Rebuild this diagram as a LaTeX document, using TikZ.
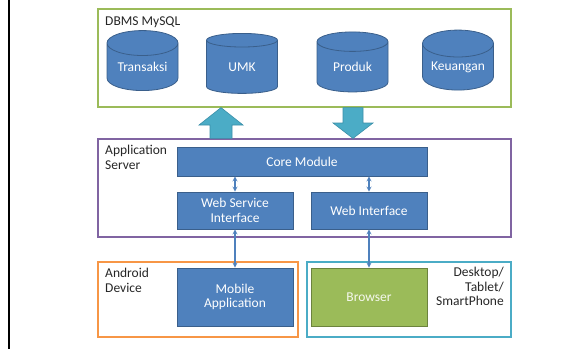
\documentclass[tikz,border=0pt]{standalone}
\usepackage{fontspec}
\setmainfont{Carlito}
\usetikzlibrary{shapes.geometric}

\definecolor{boxblue}{HTML}{4F81BD}
\definecolor{boxedge}{HTML}{3A5F8B}
\definecolor{dbgreen}{HTML}{9BBB59}
\definecolor{srvpurple}{HTML}{8064A2}
\definecolor{devorange}{HTML}{F79646}
\definecolor{devteal}{HTML}{4BACC6}
\definecolor{tealedge}{HTML}{3A8FA8}
\definecolor{labelgray}{HTML}{262626}

\tikzset{
	module/.style = {rectangle, draw=boxedge, fill=boxblue, text=white, line width=0.8pt,
		inner sep=0pt, align=center},
	dbtable/.style = {cylinder, shape border rotate=90, aspect=0.5, draw=boxedge, fill=boxblue,
		text=white, line width=0.8pt, inner sep=0pt, minimum width=71, minimum height=60},
	layer/.style = {rectangle, line width=1.2pt, inner sep=0pt},
	layerlabel/.style = {inner sep=0pt, text=labelgray},
	bigarrow/.style = {fill=devteal, draw=tealedge, line width=0.6pt}
}

\begin{document}
\begin{tikzpicture}[
		x = 1pt, y = -1pt, % one unit per pixel, y downwards
		> = stealth, % arrow head style
		font = \fontsize{13.5}{14.5}\selectfont
		]
		
		\useasboundingbox (0,0) rectangle (588,349);
		\draw[line width=2pt] (9,0) -- (9,349);
		
		% layers
		\node[layer, draw=dbgreen, minimum width=413, minimum height=98] (dbms) at (304.5,58) {};
		\node[layer, draw=srvpurple, minimum width=413, minimum height=98] (server) at (304.5,188) {};
		\node[layer, draw=devorange, minimum width=200, minimum height=75] (android) at (198,299.5) {};
		\node[layer, draw=devteal, minimum width=204, minimum height=75] (desktop) at (409,299.5) {};
		
		\node[layerlabel, anchor=base west] (dbmslbl) at (105,25) {DBMS MySQL};
		\node[layerlabel, anchor=north west, align=left] (serverlbl) at (105,145) {Application\\Server};
		\node[layerlabel, anchor=north west, align=left] (androidlbl) at (105,268) {Android\\Device};
		\node[layerlabel, anchor=north east, align=right] (desktoplbl) at (504,267) {Desktop/\\Tablet/\\SmartPhone};
		
		% database tables
		\node[dbtable] (transaksi) at (142.5,67) {Transaksi};
		\node[dbtable] (umk) at (242,67) {UMK};
		\node[dbtable] (produk) at (352.5,67) {Produk};
		\node[dbtable] (keuangan) at (458,67) {Keuangan};
		
		% modules
		\node[module, minimum width=250, minimum height=29] (core) at (302,161.5) {Core Module};
		\node[module, minimum width=116, minimum height=37] (wsi) at (235,210.5) {Web Service\\Interface};
		\node[module, minimum width=116, minimum height=37] (webif) at (369,210.5) {Web Interface};
		\node[module, minimum width=116, minimum height=58] (mobile) at (235,297) {Mobile\\Application};
		\node[module, fill=dbgreen, draw=dbgreen!70!black, text=white!90!dbgreen,
			minimum width=116, minimum height=58] (browser) at (369,297) {Browser};
		
		% data flow between database and server
		\draw[bigarrow] (dbms.south -| 221,0) -- (243,125) -- (232,125) -- (server.north -| 232,0)
			-- (server.north -| 210,0) -- (210,125) -- (199,125) -- cycle;
		\draw[bigarrow] (server.north -| 353,0) -- (373,123) -- (363,123) -- (dbms.south -| 363,0)
			-- (dbms.south -| 343,0) -- (343,123) -- (333,123) -- cycle;
		
		\path[<->, color=boxblue, line width=1.2pt]
		(core.south -| wsi) edge (wsi)
		(core.south -| webif) edge (webif)
		(wsi) edge (mobile)
		(webif) edge (browser);
	\end{tikzpicture}
\end{document}
